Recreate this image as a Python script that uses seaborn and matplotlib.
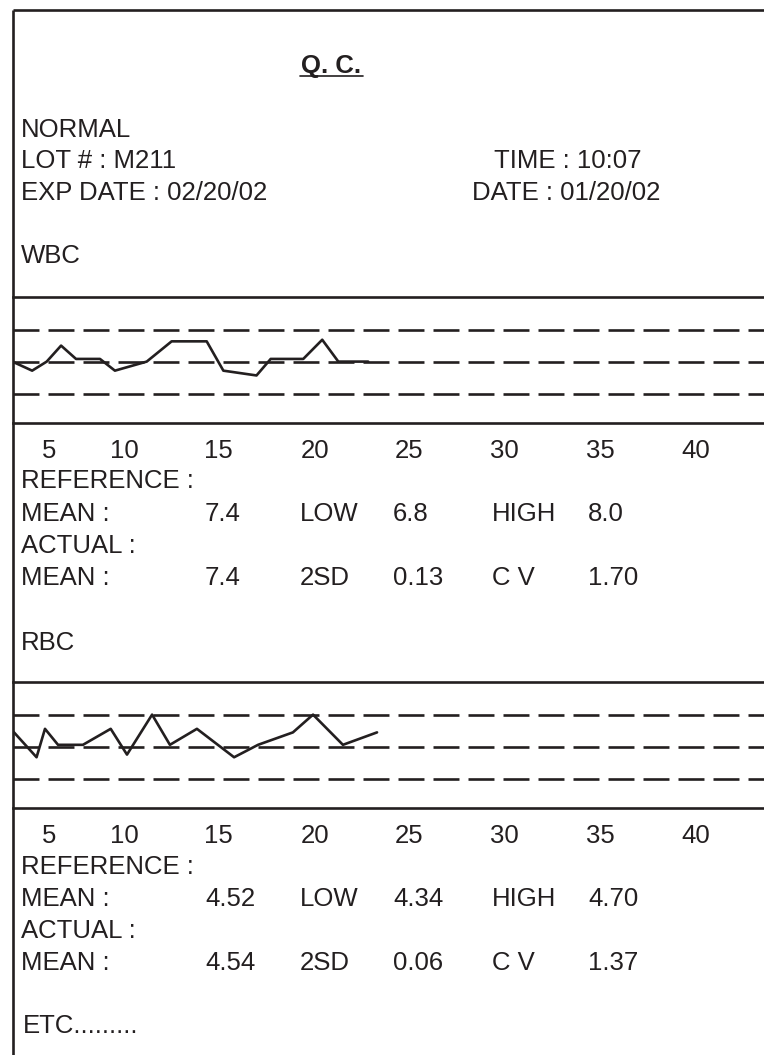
import matplotlib
matplotlib.use("Agg")
import matplotlib.pyplot as plt
import seaborn as sns
import pandas as pd

# ---------------- data ----------------
HEADER_LEFT = ["NORMAL", "LOT # : M211", "EXP DATE : 02/20/02"]
HEADER_RIGHT = ["TIME : 10:07", "DATE : 01/20/02"]

TICK_LABELS = ["5", "10", "15", "20", "25", "30", "35", "40"]
TICK_POS = [6.2, 10.1, 15, 20.05, 24.95, 29.95, 34.95, 39.95]

WBC_X = [4.27, 5.30, 6.06, 6.81, 7.59, 8.84, 9.62, 11.28, 12.58, 14.41, 15.28,
         17.01, 17.75, 19.45, 20.44, 21.28, 22.84]
WBC_Y = [7.40, 7.23, 7.40, 7.70, 7.45, 7.45, 7.23, 7.40, 7.78, 7.78, 7.23,
         7.14, 7.45, 7.45, 7.81, 7.40, 7.40]
WBC_REF = {"MEAN": "7.4", "LOW": "6.8", "HIGH": "8.0"}
WBC_ACT = {"MEAN": "7.4", "2SD": "0.13", "C V": "1.70"}
WBC_LIMITS = [6.8, 7.4, 8.0]

RBC_X = [4.27, 5.53, 5.97, 6.65, 7.95, 9.40, 10.25, 11.56, 12.49, 13.90, 15.84,
         17.09, 18.91, 19.96, 21.52, 23.30]
RBC_Y = [4.61, 4.46, 4.62, 4.53, 4.53, 4.62, 4.475, 4.70, 4.53, 4.62, 4.46,
         4.53, 4.60, 4.70, 4.53, 4.60]
RBC_REF = {"MEAN": "4.52", "LOW": "4.34", "HIGH": "4.70"}
RBC_ACT = {"MEAN": "4.54", "2SD": "0.06", "C V": "1.37"}
RBC_LIMITS = [4.34, 4.52, 4.70]

# ---------------- style ----------------
sns.set_theme(style="white")
plt.rcParams["font.family"] = ["Liberation Sans", "DejaVu Sans"]
plt.rcParams["lines.scale_dashes"] = False
INK = "#231f20"
FS = 18.5
LW = 1.9

W, H = 764, 1055
fig = plt.figure(figsize=(W / 100, H / 100), dpi=100)

bg = fig.add_axes([0, 0, 1, 1])
bg.set_xlim(0, W)
bg.set_ylim(H, 0)
bg.axis("off")

# frame (left border and top border)
bg.plot([12.7, 12.7], [10, H], color=INK, lw=LW, solid_capstyle="butt")
bg.plot([12.7, W], [10, 10], color=INK, lw=LW, solid_capstyle="butt")

def txt(x, y, s, **kw):
    bg.text(x, y, s, fontsize=FS, color=INK, va="baseline", ha=kw.pop("ha", "left"), **kw)

# title
txt(331.5, 73, "Q. C.", ha="center", fontweight="bold")
bg.plot([300, 363], [75.5, 75.5], color=INK, lw=1.2)

# header
for s, y in zip(HEADER_LEFT, [137, 168, 200]):
    txt(20.7, y, s)
for s, y in zip(HEADER_RIGHT, [168, 200]):
    txt(642 if "TIME" in s else 660, y, s, ha="right")

LEFT_X = 12.7
X_PER_PX = 1 / 19.16
def px_to_x(px):
    return 15 + (px - 218) * X_PER_PX

def panel(top, bottom, xs, ys, limits, label, label_y, ref, act, rows_y):
    txt(20.7, label_y, label)
    ax = fig.add_axes([LEFT_X / W, 1 - bottom / H, (W - LEFT_X) / W, (bottom - top) / H])
    ax.set_facecolor("none")
    low, mean, high = limits
    half = high - mean
    ax.set_ylim(mean - 1.92 * half, mean + 2.02 * half)
    ax.set_xlim(px_to_x(LEFT_X), px_to_x(W))
    for v in limits:
        ax.axhline(v, color=INK, lw=LW, dashes=(18.7, 6.5), dash_capstyle="butt")
    df = pd.DataFrame({"run": xs, "value": ys})
    sns.lineplot(data=df, x="run", y="value", ax=ax, color=INK, lw=LW,
                 estimator=None, sort=False)
    for sp in ["left", "right"]:
        ax.spines[sp].set_visible(False)
    for sp in ["top", "bottom"]:
        ax.spines[sp].set_visible(True)
        ax.spines[sp].set_color(INK)
        ax.spines[sp].set_linewidth(LW)
    ax.set_yticks([])
    ax.set_xticks(TICK_POS)
    ax.set_xticklabels(TICK_LABELS)
    ax.tick_params(axis="x", length=0, pad=11.5, labelsize=FS, labelcolor=INK)
    ax.set_xlabel("")
    ax.set_ylabel("")
    r1, r2, r3, r4 = rows_y
    txt(20.7, r1, "REFERENCE :")
    txt(20.7, r2, "MEAN :")
    txt(205, r2, ref["MEAN"])
    txt(300, r2, "LOW")
    txt(393, r2, ref["LOW"])
    txt(492, r2, "HIGH")
    txt(588, r2, ref["HIGH"])
    txt(20.7, r3, "ACTUAL :")
    txt(20.7, r4, "MEAN :")
    txt(205, r4, act["MEAN"])
    txt(300, r4, "2SD")
    txt(393, r4, act["2SD"])
    txt(492, r4, "C V")
    txt(588, r4, act["C V"])

panel(297, 423, WBC_X, WBC_Y, WBC_LIMITS, "WBC", 263, WBC_REF, WBC_ACT, [488, 521, 553, 585])
panel(682, 808, RBC_X, RBC_Y, RBC_LIMITS, "RBC", 650, RBC_REF, RBC_ACT, [874, 906, 938, 970])

txt(22.7, 1033, "ETC.........")

fig.savefig("out.png", dpi=100)
